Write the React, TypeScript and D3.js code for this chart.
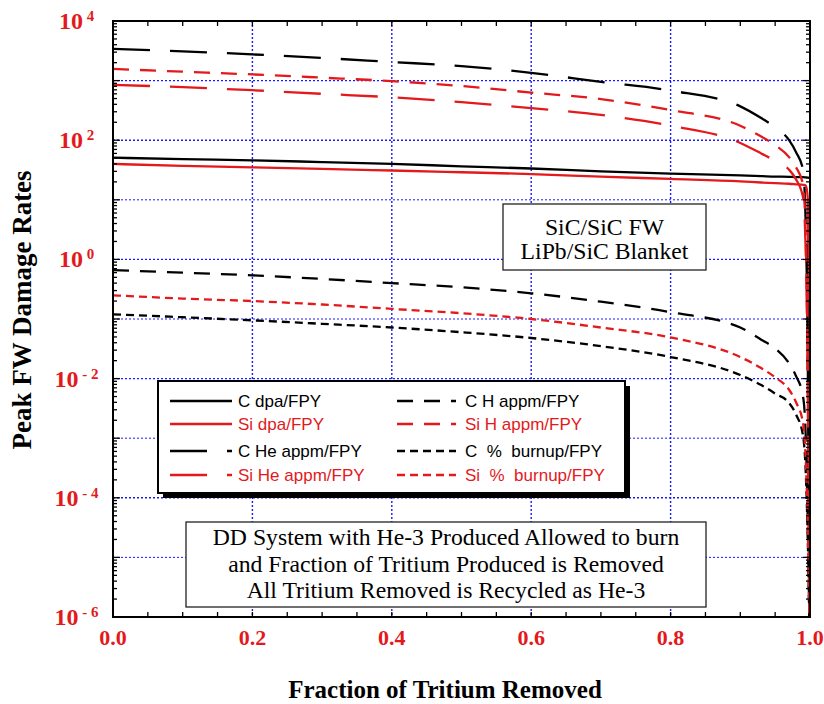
import { useEffect, useRef } from 'react';
import * as d3 from 'd3';

// fraction of tritium removed (x values shared by all curves)
const fraction = [0, 0.1, 0.2, 0.3, 0.4, 0.5, 0.6, 0.7, 0.8, 0.9, 0.93, 0.95, 0.97, 0.98, 0.99, 0.994, 0.997, 0.999];

// peak FW damage rates per FPY
const cDpa = [51, 48, 46, 43, 40, 36.5, 33.5, 30, 27.5, 25.7, 25, 24.5, 24.3, 24, 24, 23.7, 23.5, 23.4];
const siDpa = [40, 37, 35, 33, 31, 29, 27, 24.5, 22.4, 20.4, 19.5, 19, 18.6, 18.2, 17.8, 17.4, 10, 1e-6];
const cHeAppm = [3400, 3100, 2750, 2400, 2050, 1750, 1350, 950, 680, 370, 235, 165, 100, 63, 32, 3.2, 0.01, 1e-6];
const siHAppm = [1570, 1410, 1270, 1120, 980, 810, 630, 490, 320, 175, 115, 83, 52, 35, 18, 2, 0.006, 1e-6];
const siHeAppm = [850, 775, 690, 600, 525, 435, 345, 265, 175, 90, 60, 45, 32, 22, 11, 1.25, 0.003, 1e-6];
const cHAppm = [0.66, 0.6, 0.54, 0.47, 0.4, 0.34, 0.27, 0.195, 0.13, 0.072, 0.045, 0.032, 0.018, 0.011, 0.005, 0.001, 3e-5, 1e-6];
const siBurnup = [0.25, 0.22, 0.2, 0.175, 0.148, 0.125, 0.1, 0.072, 0.049, 0.023, 0.015, 0.0105, 0.0065, 0.004, 0.0018, 0.0004, 2.5e-5, 1e-6];
const cBurnup = [0.12, 0.107, 0.095, 0.083, 0.072, 0.06, 0.048, 0.035, 0.023, 0.0115, 0.0078, 0.0056, 0.0039, 0.0025, 0.0011, 0.00025, 1.6e-5, 1e-6];

const xTickLabels = ['0.0', '0.2', '0.4', '0.6', '0.8', '1.0'];
const yExponents = [-6, -4, -2, 0, 2, 4];

const RED = '#e3191c';
const SOLID = null;
const LONG = '37,20';
const MED = '16,11';
const SHORT = '8,5';

const series = [
  { name: 'C dpa/FPY', values: cDpa, color: '#000', dash: SOLID },
  { name: 'Si dpa/FPY', values: siDpa, color: RED, dash: SOLID },
  { name: 'C He appm/FPY', values: cHeAppm, color: '#000', dash: LONG },
  { name: 'Si He appm/FPY', values: siHeAppm, color: RED, dash: LONG },
  { name: 'C H appm/FPY', values: cHAppm, color: '#000', dash: MED },
  { name: 'Si H appm/FPY', values: siHAppm, color: RED, dash: MED },
  { name: 'C  %  burnup/FPY', values: cBurnup, color: '#000', dash: SHORT },
  { name: 'Si  %  burnup/FPY', values: siBurnup, color: RED, dash: SHORT },
];

// legend layout: two columns of four rows
const legendOrder = [
  ['C dpa/FPY', 'Si dpa/FPY', 'C He appm/FPY', 'Si He appm/FPY'],
  ['C H appm/FPY', 'Si H appm/FPY', 'C  %  burnup/FPY', 'Si  %  burnup/FPY'],
];

const box1Lines = ['SiC/SiC FW', 'LiPb/SiC Blanket'];
const box2Lines = [
  'DD System with He-3 Produced Allowed to burn',
  'and Fraction of Tritium Produced is Removed',
  'All Tritium Removed is Recycled as He-3',
];

export default function App() {
  const svgRef = useRef<SVGSVGElement | null>(null);

  useEffect(() => {
    const svg = d3.select(svgRef.current);
    svg.selectAll('*').remove();

    const width = 824;
    const height = 704;
    const margin = { top: 21, right: 14, bottom: 87, left: 113 };
    const w = width - margin.left - margin.right;
    const h = height - margin.top - margin.bottom;

    const x = d3.scaleLinear().domain([0, 1]).range([0, w]);
    const y = d3.scaleLog().domain([1e-6, 1e4]).range([h, 0]);

    const g = svg.append('g').attr('transform', `translate(${margin.left},${margin.top})`);

    svg.append('defs').append('clipPath').attr('id', 'plotclip')
      .append('rect').attr('width', w).attr('height', h);

    // gridlines
    const grid = g.append('g');
    [0.2, 0.4, 0.6, 0.8].forEach((v) => {
      grid.append('line').attr('x1', x(v)).attr('x2', x(v)).attr('y1', 0).attr('y2', h)
        .attr('stroke', '#1a1aff').attr('stroke-width', 1.4).attr('stroke-dasharray', '2,2');
    });
    d3.range(-5, 4).forEach((e) => {
      grid.append('line').attr('x1', 0).attr('x2', w).attr('y1', y(10 ** e)).attr('y2', y(10 ** e))
        .attr('stroke', '#1a1aff').attr('stroke-width', e % 2 === 0 || e === 3 ? 1.4 : 1).attr('stroke-dasharray', '2,2');
    });

    // curves
    const line = d3.line<number>()
      .x((_, i) => x(fraction[i]))
      .y((d) => y(d))
      .curve(d3.curveMonotoneX);

    const curves = g.append('g').attr('clip-path', 'url(#plotclip)');
    series.forEach((s) => {
      curves.append('path')
        .attr('d', line(s.values))
        .attr('fill', 'none')
        .attr('stroke', s.color)
        .attr('stroke-width', 2.3)
        .attr('stroke-dasharray', s.dash ?? null);
    });

    // frame
    g.append('rect').attr('width', w).attr('height', h).attr('fill', 'none').attr('stroke', '#000').attr('stroke-width', 2);

    // x ticks (inward, top and bottom)
    const ticks = g.append('g').attr('stroke', '#000').attr('stroke-width', 1.3);
    d3.range(1, 20).forEach((i) => {
      const xv = x(i * 0.05);
      ticks.append('line').attr('x1', xv).attr('x2', xv).attr('y1', h).attr('y2', h - 5);
      ticks.append('line').attr('x1', xv).attr('x2', xv).attr('y1', 0).attr('y2', 5);
    });
    // y ticks (log, inward, left and right)
    d3.range(-6, 4).forEach((e) => {
      for (let m = 1; m <= 9; m++) {
        const yv = y(m * 10 ** e);
        const len = m === 1 ? 7 : 4;
        if (m === 1 && e === -6) continue;
        ticks.append('line').attr('x1', 0).attr('x2', len).attr('y1', yv).attr('y2', yv);
        ticks.append('line').attr('x1', w).attr('x2', w - len).attr('y1', yv).attr('y2', yv);
      }
    });

    // y tick labels
    yExponents.forEach((e) => {
      const t = g.append('text')
        .attr('x', 76.5 - margin.left)
        .attr('y', y(10 ** e) + 8)
        .attr('text-anchor', 'middle')
        .attr('font-family', '"Liberation Serif", "Times New Roman", serif')
        .attr('font-weight', 'bold')
        .attr('fill', RED)
        .style('white-space', 'pre');
      t.append('tspan').attr('font-size', 24).text('10');
      t.append('tspan').attr('font-size', 15).attr('dy', -8).text(e < 0 ? ` - ${-e}` : ` ${e}`);
    });

    // x tick labels
    xTickLabels.forEach((lab) => {
      g.append('text')
        .attr('x', x(+lab))
        .attr('y', h + 28)
        .attr('text-anchor', 'middle')
        .attr('font-family', '"Liberation Serif", "Times New Roman", serif')
        .attr('font-weight', 'bold')
        .attr('font-size', 22)
        .attr('fill', RED)
        .text(lab);
    });

    // axis titles
    svg.append('text')
      .attr('x', 445)
      .attr('y', 698)
      .attr('text-anchor', 'middle')
      .attr('font-family', '"Liberation Serif", "Times New Roman", serif')
      .attr('font-weight', 'bold')
      .attr('font-size', 25)
      .text('Fraction of Tritium Removed');
    svg.append('text')
      .attr('transform', 'translate(31,310) rotate(-90)')
      .attr('text-anchor', 'middle')
      .attr('font-family', '"Liberation Serif", "Times New Roman", serif')
      .attr('font-weight', 'bold')
      .attr('font-size', 27)
      .text('Peak FW Damage Rates');

    // note boxes
    const noteBox = (x0: number, y0: number, bw: number, bh: number, lines: string[], baselines: number[]) => {
      svg.append('rect').attr('x', x0).attr('y', y0).attr('width', bw).attr('height', bh)
        .attr('fill', '#fff').attr('stroke', '#222').attr('stroke-width', 1.3);
      lines.forEach((txt, i) => {
        svg.append('text')
          .attr('x', x0 + bw / 2)
          .attr('y', baselines[i])
          .attr('text-anchor', 'middle')
          .attr('font-family', '"Liberation Serif", "Times New Roman", serif')
          .attr('font-size', 23.7)
          .text(txt);
      });
    };
    noteBox(503, 204, 203, 66, box1Lines, [235, 259]);
    noteBox(186, 522, 520, 85, box2Lines, [545, 572, 598]);

    // legend
    const lg = svg.append('g');
    lg.append('rect').attr('x', 163).attr('y', 386).attr('width', 467).attr('height', 112).attr('fill', '#000');
    lg.append('rect').attr('x', 158).attr('y', 381).attr('width', 467).attr('height', 112)
      .attr('fill', '#fff').attr('stroke', '#000').attr('stroke-width', 2);
    const colX = [170, 397];
    const rowY = [407, 430, 457, 481];
    legendOrder.forEach((col, ci) => {
      col.forEach((name, ri) => {
        const s = series.find((d) => d.name === name)!;
        const yy = rowY[ri];
        lg.append('line')
          .attr('x1', colX[ci]).attr('x2', colX[ci] + (ci === 0 ? 62 : 59))
          .attr('y1', yy - 6).attr('y2', yy - 6)
          .attr('stroke', s.color).attr('stroke-width', 2.3)
          .attr('stroke-dasharray', s.dash ?? null);
        lg.append('text')
          .attr('x', colX[ci] + 68)
          .attr('y', yy)
          .attr('font-family', '"Liberation Sans", Arial, sans-serif')
          .attr('font-size', 17)
          .attr('fill', s.color)
          .style('white-space', 'pre')
          .text(name);
      });
    });

    return () => {
      svg.selectAll('*').remove();
    };
  }, []);

  return (
    <svg
      ref={svgRef}
      width={824}
      height={704}
      style={{ position: 'absolute', left: 0, top: 0, background: '#fff' }}
    />
  );
}
